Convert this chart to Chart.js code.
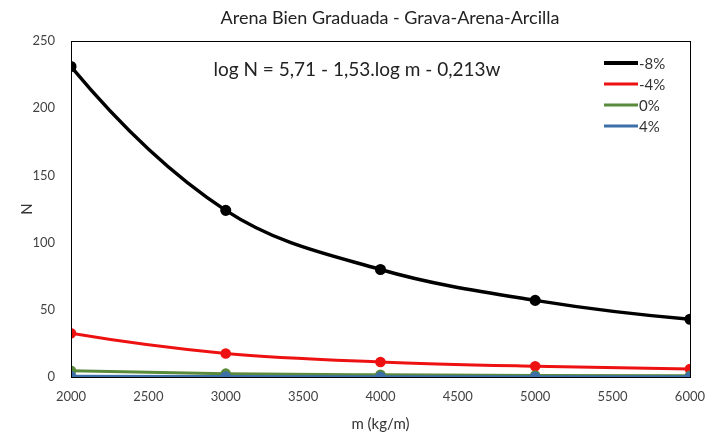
<!DOCTYPE html>
<html><head><meta charset="utf-8">
<script src="https://cdn.jsdelivr.net/npm/chart.js@4/dist/chart.umd.min.js"></script>
<style>html,body{margin:0;padding:0;background:#fff}#wrap{width:717px;height:435px}</style>
</head><body><div id="wrap"><canvas id="c" width="717" height="435"></canvas></div>
<script>
const masses = [2000, 3000, 4000, 5000, 6000];
const nMinus8 = [231, 124, 80, 57, 43];
const nMinus4 = [32.5, 17.5, 11.2, 8.0, 6.0];
const nZero = [4.6, 2.5, 1.6, 1.1, 0.85];
const nPlus4 = [0.64, 0.35, 0.22, 0.16, 0.12];
const seriesLabels = ['-8%', '-4%', '0%', '4%'];
const seriesColors = ['#000000', '#ee1111', '#5a8a3c', '#3d6fa8'];
const titleText = 'Arena Bien Graduada - Grava-Arena-Arcilla';
const equationText = 'log N = 5,71 - 1,53.log m - 0,213w';
const xTitle = 'm (kg/m)';
const yTitle = 'N';

const FONT = 'Lato, "Open Sans", sans-serif';
const allSeries = [nMinus8, nMinus4, nZero, nPlus4];
const datasets = allSeries.map((vals, i) => ({
  label: seriesLabels[i],
  data: masses.map((m, j) => ({x: m, y: vals[j]})),
  borderColor: seriesColors[i],
  backgroundColor: seriesColors[i],
  borderWidth: i === 0 ? 3.5 : 3,
  pointRadius: 3.8,
  pointHoverRadius: 3.8,
  tension: 0.4,
  order: 3 - i
}));

// Smooth (Excel-like) curve: Hermite tangents from local parabolas, applied to the library's own point positions
const smoothCurves = {
  id: 'smoothCurves',
  beforeDatasetsDraw(chart) {
    chart.getSortedVisibleDatasetMetas().forEach(meta => {
      const line = meta.dataset, pts = meta.data;
      if (!line || pts.length < 3) return;
      line.updateControlPoints(chart.chartArea, 'x');
      const n = pts.length, h = [], s = [], d = [];
      for (let i = 0; i < n - 1; i++) {
        h.push(pts[i + 1].x - pts[i].x);
        s.push((pts[i + 1].y - pts[i].y) / h[i]);
      }
      d[0] = ((2 * h[0] + h[1]) * s[0] - h[0] * s[1]) / (h[0] + h[1]);
      for (let i = 1; i < n - 1; i++) {
        d[i] = (s[i] * h[i - 1] + s[i - 1] * h[i]) / (h[i - 1] + h[i]);
      }
      const k = n - 1;
      d[k] = ((2 * h[k - 1] + h[k - 2]) * s[k - 1] - h[k - 1] * s[k - 2]) / (h[k - 1] + h[k - 2]);
      for (let i = 0; i < n; i++) {
        const p = pts[i];
        const hp = i > 0 ? h[i - 1] / 3 : 0;
        const hn = i < n - 1 ? h[i] / 3 : 0;
        p.cp1x = p.x - hp; p.cp1y = p.y - hp * d[i];
        p.cp2x = p.x + hn; p.cp2y = p.y + hn * d[i];
      }
    });
  }
};

const extras = {
  id: 'extras',
  afterDraw(chart) {
    const ctx = chart.ctx, a = chart.chartArea;
    ctx.save();
    ctx.strokeStyle = '#000'; ctx.lineWidth = 1;
    ctx.strokeRect(Math.round(a.left) + 0.5, Math.round(a.top) + 0.5, Math.round(a.right - a.left), Math.round(a.bottom - a.top));
    // title
    ctx.fillStyle = '#222';
    ctx.textAlign = 'center'; ctx.textBaseline = 'middle';
    ctx.font = '18px ' + FONT;
    ctx.fillText(titleText, 390, 18);
    // equation
    ctx.font = '19px ' + FONT;
    ctx.fillText(equationText, 357, 70);
    // legend
    ctx.font = '15px ' + FONT;
    ctx.textAlign = 'left';
    seriesLabels.forEach((lab, i) => {
      const y = 63 + i * 21;
      ctx.strokeStyle = seriesColors[i];
      ctx.lineWidth = i === 0 ? 4 : 3;
      ctx.beginPath(); ctx.moveTo(604, y); ctx.lineTo(638, y); ctx.stroke();
      ctx.fillStyle = '#333';
      ctx.fillText(lab, 639, y + 1);
    });
    ctx.restore();
  }
};

new Chart(document.getElementById('c'), {
  type: 'line',
  data: {datasets},
  plugins: [smoothCurves, extras],
  options: {
    responsive: false,
    animation: false,
    layout: {padding: {top: 41, right: 26, bottom: 2, left: 18}},
    plugins: {
      legend: {display: false},
      tooltip: {enabled: false},
      title: {display: false}
    },
    scales: {
      x: {
        type: 'linear', min: 2000, max: 6000,
        ticks: {stepSize: 500, color: '#444', font: {family: FONT, size: 13}, padding: 12, maxRotation: 0,
                callback: v => String(v)},
        grid: {display: false, drawTicks: false},
        border: {display: false},
        title: {display: true, text: xTitle, color: '#333', font: {family: FONT, size: 15}, padding: {top: 4, bottom: 0}},
        afterFit: s => { s.height = 56; }
      },
      y: {
        min: 0, max: 250,
        ticks: {stepSize: 50, color: '#444', font: {family: FONT, size: 13}, padding: 16, callback: v => String(v)},
        grid: {display: false, drawTicks: false},
        border: {display: false},
        title: {display: true, text: yTitle, color: '#333', font: {family: FONT, size: 15}, padding: {top: 0, bottom: 0}},
        afterFit: s => { s.width = 53; }
      }
    }
  }
});
</script></body></html>
